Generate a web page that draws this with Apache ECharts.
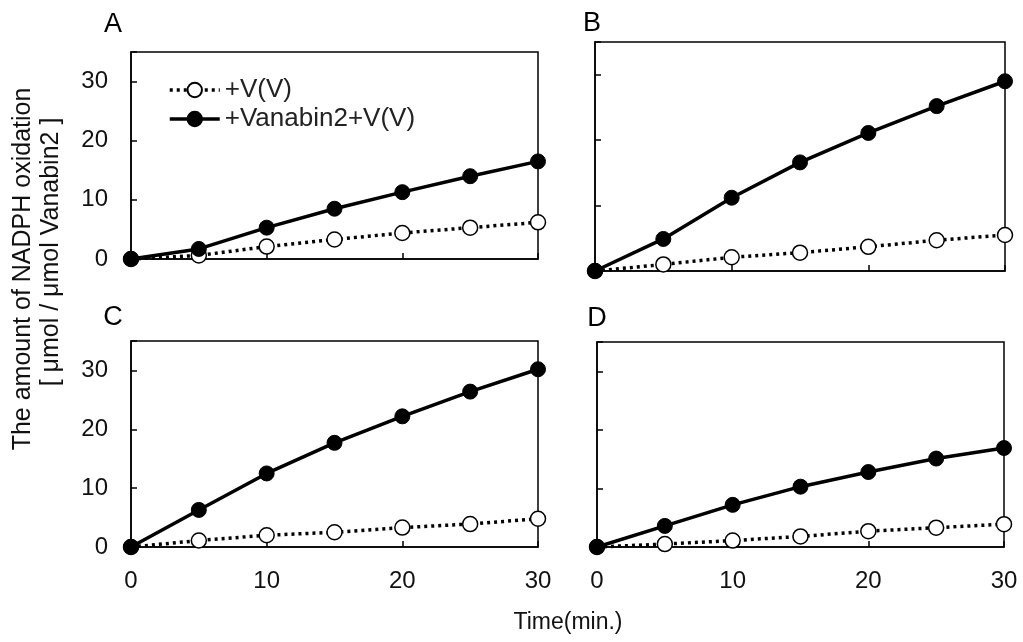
<!DOCTYPE html>
<html>
<head>
<meta charset="utf-8">
<script src="https://cdn.jsdelivr.net/npm/echarts@6/dist/echarts.min.js"></script>
<style>
html,body{margin:0;padding:0;background:#fff;}
#chart{width:1023px;height:642px;}
</style>
</head>
<body>
<div id="chart"></div>
<script>
// Data
const times = [0, 5, 10, 15, 20, 25, 30];
const panelLabels = ['A', 'B', 'C', 'D'];
const seriesNames = ['+V(V)', '+Vanabin2+V(V)'];
const openA = [0, 0.6, 2.1, 3.3, 4.4, 5.3, 6.2];
const filledA = [0, 1.7, 5.3, 8.5, 11.3, 14.0, 16.5];
const openB = [0, 1.0, 2.1, 2.8, 3.7, 4.7, 5.5];
const filledB = [0, 4.9, 11.2, 16.6, 21.1, 25.2, 29.0];
const openC = [0, 1.1, 2.0, 2.5, 3.3, 3.9, 4.8];
const filledC = [0, 6.3, 12.5, 17.7, 22.2, 26.4, 30.2];
const openD = [0, 0.5, 1.1, 1.8, 2.7, 3.3, 3.9];
const filledD = [0, 3.6, 7.2, 10.3, 12.8, 15.1, 16.9];
const xTicks = [0, 10, 20, 30];
const yTicks = [0, 10, 20, 30];
const yTitle1 = 'The amount of NADPH oxidation';
const yTitle2 = '[ \u03bcmol / \u03bcmol Vanabin2 ]';
const xTitle = 'Time(min.)';

const openData = [openA, openB, openC, openD];
const filledData = [filledA, filledB, filledC, filledD];

const FONT = 'Liberation Sans, Arial, sans-serif';
const grids = [
  {left: 131, top: 52, width: 407, height: 207},
  {left: 595, top: 42, width: 410, height: 229},
  {left: 131, top: 341, width: 407, height: 206},
  {left: 597, top: 342, width: 407, height: 205}
];
const showX = [false, false, true, true];
const showY = [true, false, true, false];

const xAxes = grids.map((g, i) => ({
  type: 'value', gridIndex: i, min: 0, max: 30, interval: 10,
  axisLine: {lineStyle: {color: '#000', width: 1.5}},
  axisTick: {inside: true, length: 6, lineStyle: {color: '#000', width: 1.5}},
  splitLine: {show: false},
  axisLabel: {show: showX[i], margin: 22, color: '#111', fontSize: 24, fontFamily: FONT,
    formatter: v => xTicks.indexOf(v) >= 0 ? String(v) : ''}
}));
const yAxes = grids.map((g, i) => ({
  type: 'value', gridIndex: i, min: 0, max: 35, interval: 10,
  axisLine: {lineStyle: {color: '#000', width: 1.5}},
  axisTick: {inside: true, length: 6, lineStyle: {color: '#000', width: 1.5}},
  splitLine: {show: false},
  axisLabel: {show: showY[i], margin: 23, color: '#111', fontSize: 24, fontFamily: FONT,
    formatter: v => yTicks.indexOf(v) >= 0 ? String(v) : ''}
}));

const series = [];
for (let i = 0; i < 4; i++) {
  series.push({
    name: seriesNames[0], type: 'line', xAxisIndex: i, yAxisIndex: i,
    data: times.map((t, k) => [t, openData[i][k]]),
    symbol: 'circle', symbolSize: 15, showAllSymbol: true,
    lineStyle: {color: '#000', width: 3.5, type: [3, 4], cap: 'butt'},
    itemStyle: {color: '#fff', borderColor: '#000', borderWidth: 1.5},
    z: 2, animation: false, clip: false
  });
  series.push({
    name: seriesNames[1], type: 'line', xAxisIndex: i, yAxisIndex: i,
    data: times.map((t, k) => [t, filledData[i][k]]),
    symbol: 'circle', symbolSize: 15, showAllSymbol: true,
    lineStyle: {color: '#000', width: 3.5},
    itemStyle: {color: '#000', borderColor: '#000', borderWidth: 1},
    z: 3, animation: false, clip: false
  });
}

const letterPos = [[113, 25], [592, 24], [113, 318], [597, 319]];
const graphics = panelLabels.map((t, i) => ({
  type: 'text', x: letterPos[i][0], y: letterPos[i][1],
  style: {text: t, fontSize: 27, fontFamily: FONT, fill: '#000', textAlign: 'center', textVerticalAlign: 'middle'}
}));
graphics.push({
  type: 'text', x: 23, y: 269, rotation: Math.PI / 2,
  style: {text: yTitle1, fontSize: 25, fontFamily: FONT, fill: '#111', textAlign: 'center', textVerticalAlign: 'middle'}
});
graphics.push({
  type: 'text', x: 51, y: 252, rotation: Math.PI / 2,
  style: {text: yTitle2, fontSize: 25, fontFamily: FONT, fill: '#111', textAlign: 'center', textVerticalAlign: 'middle'}
});
graphics.push({
  type: 'text', x: 568, y: 623,
  style: {text: xTitle, fontSize: 23, fontFamily: FONT, fill: '#111', textAlign: 'center', textVerticalAlign: 'middle'}
});

const chart = echarts.init(document.getElementById('chart'), null, {renderer: 'canvas'});
chart.setOption({
  animation: false,
  backgroundColor: '#fff',
  grid: grids.map(g => Object.assign({show: true, borderColor: '#000', borderWidth: 1.5, backgroundColor: 'transparent'}, g)),
  xAxis: xAxes,
  yAxis: yAxes,
  legend: {
    data: seriesNames, orient: 'vertical', left: 163, top: 72,
    itemWidth: 50, itemHeight: 18, itemGap: 3,
    lineStyle: {width: 3.5},
    textStyle: {fontSize: 26, fontFamily: FONT, color: '#222'}
  },
  graphic: graphics,
  series: series
});
</script>
</body>
</html>
